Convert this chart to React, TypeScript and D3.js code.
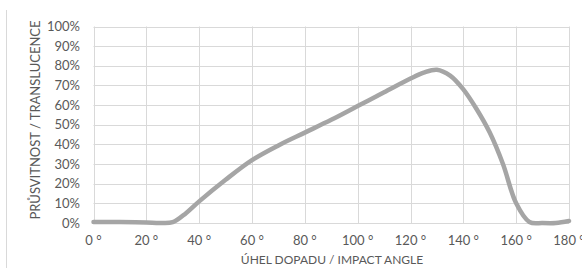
import React from "react";
import * as d3 from "d3";

const angles = [0, 10, 20, 25, 30, 35, 40, 50, 60, 70, 80, 90, 100, 110, 120, 125, 130, 135, 140, 145, 150, 155, 160, 165, 170, 175, 180];
const translucence = [0.5, 0.5, 0.3, 0, 0.4, 5, 11, 22, 32, 39.5, 46, 52.5, 59.5, 66.5, 73.5, 76.5, 78, 75, 68, 58, 46, 30, 10, 0.5, 0, 0, 1];
const xTicks = [0, 20, 40, 60, 80, 100, 120, 140, 160, 180];
const yTicks = [0, 10, 20, 30, 40, 50, 60, 70, 80, 90, 100];
const xTitle = "ÚHEL DOPADU / IMPACT ANGLE";
const yTitle = "PRŮSVITNOST / TRANSLUCENCE";

export default function App() {
  const W = 582, H = 270;
  const x = d3.scaleLinear().domain([0, 180]).range([93.5, 569]);
  const y = d3.scaleLinear().domain([0, 100]).range([223, 26.5]);
  const data = angles.map((a, i) => [a, translucence[i]] as [number, number]);
  const line = d3.line<[number, number]>().x(d => x(d[0])).y(d => y(d[1])).curve(d3.curveCatmullRom.alpha(0.5));
  const font = "Lato, 'Open Sans', sans-serif";
  const txt = "#595959";
  return (
    <svg width={W} height={H} style={{ position: "absolute", left: 0, top: 0 }}>
      <rect width={W} height={H} fill="#fff" />
      <line x1={6.5} x2={6.5} y1={10} y2={268} stroke="#d9d9d9" />
      {yTicks.map(t => (
        <line key={"gy" + t} x1={x(0)} x2={x(180)} y1={Math.round(y(t)) + 0.5} y2={Math.round(y(t)) + 0.5} stroke="#d9d9d9" />
      ))}
      {xTicks.map(t => (
        <line key={"gx" + t} x1={Math.round(x(t)) + 0.5} x2={Math.round(x(t)) + 0.5} y1={y(100)} y2={y(0)} stroke="#d9d9d9" />
      ))}
      {yTicks.map(t => (
        <text key={"ty" + t} x={80} y={y(t)} dy="0.35em" textAnchor="end" fontFamily={font} fontSize={13} fill={txt}>{t}%</text>
      ))}
      {xTicks.map(t => (
        <text key={"tx" + t} x={x(t)} y={245} textAnchor="middle" fontFamily={font} fontSize={13} fill={txt}>{t} °</text>
      ))}
      <text x={332} y={264} textAnchor="middle" fontFamily={font} fontSize={12} fill={txt}>{xTitle}</text>
      <text transform={`translate(40,${120}) rotate(-90)`} textAnchor="middle" fontFamily={font} fontSize={13} fill={txt}>{yTitle}</text>
      <path d={line(data) || ""} fill="none" stroke="#a5a5a5" strokeWidth={4.5} strokeLinecap="round" strokeLinejoin="round" />
    </svg>
  );
}
